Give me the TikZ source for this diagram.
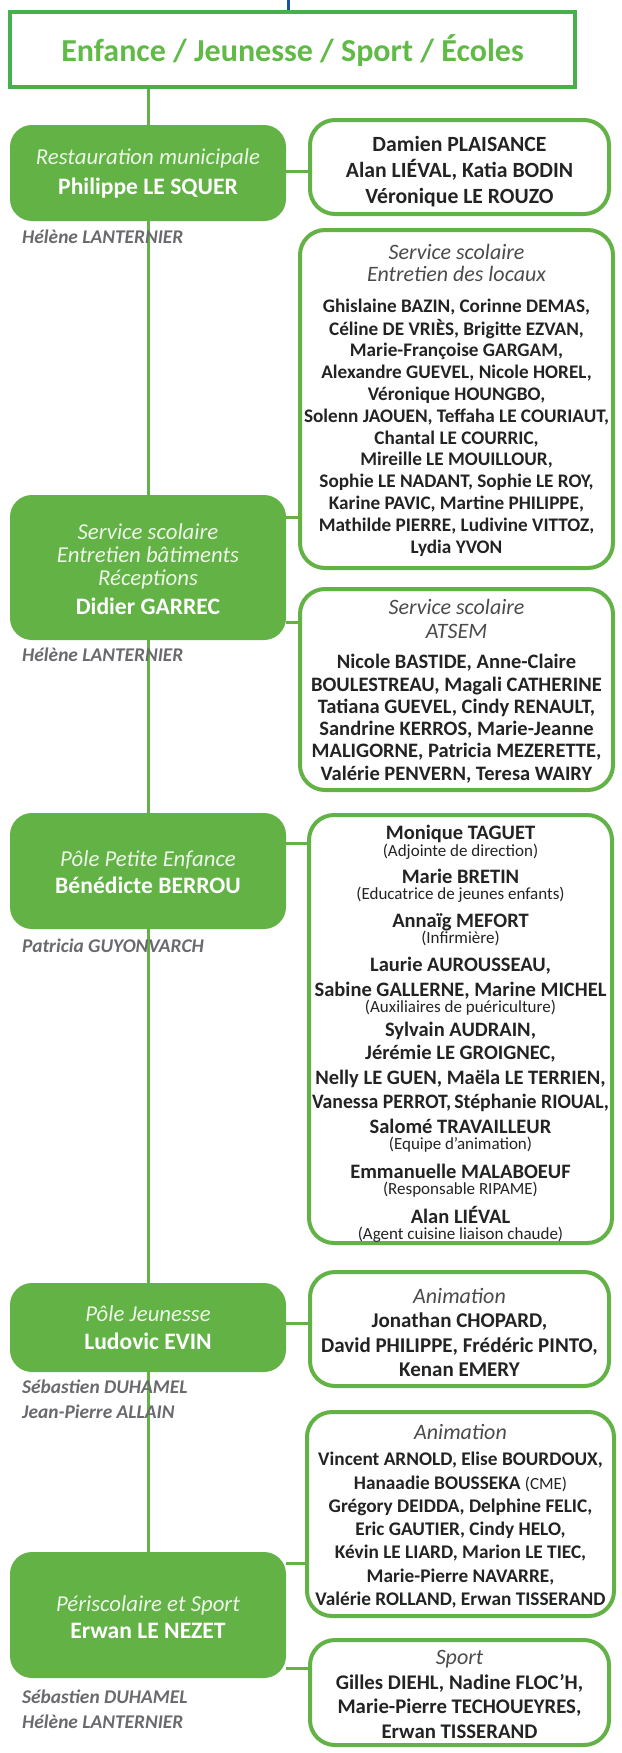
\documentclass[tikz,border=0pt]{standalone}
\usepackage{fontspec}
\setmainfont{Carlito}
\definecolor{lgreen}{RGB}{98,178,70}
\definecolor{tgreen}{RGB}{69,176,76}
\definecolor{ttext}{RGB}{96,186,70}
\definecolor{navy}{RGB}{30,80,160}
\definecolor{graytxt}{RGB}{105,105,110}
\definecolor{darktxt}{RGB}{35,35,35}
\definecolor{hdrtxt}{RGB}{75,75,75}
\definecolor{ltxt}{RGB}{236,246,230}
\newcommand\blk[3]{{\fontsize{#1}{#2}\selectfont\begin{tabular}[t]{@{}c@{}}#3\end{tabular}}}
\newcommand\lblk[3]{{\fontsize{#1}{#2}\selectfont\begin{tabular}[t]{@{}l@{}}#3\end{tabular}}}
\newcommand\hdr{\color{hdrtxt}\fontsize{22}{24}\selectfont\mdseries\itshape}
\newcommand\pnote{\color{darktxt}\fontsize{17}{18}\selectfont\mdseries\upshape}
\newcommand\lit{\color{ltxt}\fontsize{22.8}{23}\selectfont\mdseries\itshape}
\tikzset{
  lbox/.style={fill=lgreen, rounded corners=22pt, minimum width=276pt, inner sep=0pt},
  rbox/.style={draw=lgreen, line width=4pt, fill=white, rounded corners=25pt, inner sep=0pt},
  conn/.style={draw=lgreen, line width=3pt},
  mainline/.style={draw=lgreen, line width=3pt},
  txt/.style={anchor=base, inner sep=0pt},
  rtxt/.style={txt, text=darktxt, font=\bfseries},
  ltext/.style={txt, text=white, font=\bfseries},
  gtxt/.style={anchor=base west, inner sep=0pt, text=graytxt, font=\bfseries\itshape},
}
\begin{document}
\begin{tikzpicture}[x=1pt,y=-1pt]
\useasboundingbox (0,0) rectangle (621,1753);
% title and left boxes
\node[draw=tgreen, line width=4pt, minimum width=565pt, minimum height=75pt, inner sep=0pt] (title) at (292.5,49.5) {};
\coordinate (top) at (288,0);
\node[lbox, minimum height=96pt]  (l1) at (148,173) {};
\node[lbox, minimum height=145pt] (l2) at (148,567.5) {};
\node[lbox, minimum height=116pt] (l3) at (148,871) {};
\node[lbox, minimum height=89pt]  (l4) at (148,1327.5) {};
\node[lbox, minimum height=126pt] (l5) at (148,1615) {};
% connector heights
\coordinate (c1) at (0,171);
\coordinate (c2) at (0,517);
\coordinate (c3) at (0,622);
\coordinate (c4) at (0,843);
\coordinate (c5) at (0,1323);
\coordinate (c6) at (0,1563);
\coordinate (c7) at (0,1668);
% vertical lines
\draw[navy, line width=3pt] (top) -- (top |- title.north);
\draw[mainline] (l1.north |- title.south) -- (l5.north);
% right boxes
\node[rbox, minimum width=299pt, minimum height=94pt]  (a) at (459.5,167) {};
\node[rbox, minimum width=313pt, minimum height=338pt] (b) at (456.5,399) {};
\node[rbox, minimum width=313pt, minimum height=201pt] (c) at (456.5,689.5) {};
\node[rbox, minimum width=303pt, minimum height=428pt] (d) at (460.5,1029) {};
\node[rbox, minimum width=299pt, minimum height=114pt] (e) at (459.5,1329) {};
\node[rbox, minimum width=307pt, minimum height=204pt] (f) at (460.5,1514) {};
\node[rbox, minimum width=299pt, minimum height=105pt] (g) at (459.5,1692.5) {};
% connectors
\draw[conn] (l1.east |- c1) -- (a.west |- c1);
\draw[conn] (l2.east |- c2) -- (b.west |- c2);
\draw[conn] (l2.east |- c3) -- (c.west |- c3);
\draw[conn] (l3.east |- c4) -- (d.west |- c4);
\draw[conn] (l4.east |- c5) -- (e.west |- c5);
\draw[conn] (l5.east |- c6) -- (f.west |- c6);
\draw[conn] (l5.east |- c7) -- (g.west |- c7);
% title text
\node[txt, text=ttext, font=\bfseries\fontsize{32}{36}\selectfont] (tt) at (292.5,62) {Enfance / Jeunesse / Sport / Écoles};
% left texts
\node[ltext] (l1t) at (148,164.6) {\blk{23.6}{29}{\lit Restauration municipale\\[1pt] Philippe LE SQUER}};
\node[ltext] (l2t) at (148,539.6) {\blk{23.6}{23}{\lit Service scolaire\\\lit Entretien bâtiments\\\lit Réceptions\\[5.3pt] Didier GARREC}};
\node[ltext] (l3t) at (148,866.6) {\blk{23.6}{27.3}{\lit Pôle Petite Enfance\\ Bénédicte BERROU}};
\node[ltext] (l4t) at (148,1321.6) {\blk{23.6}{28}{\lit Pôle Jeunesse\\ Ludovic EVIN}};
\node[ltext] (l5t) at (148,1611.6) {\blk{23.6}{27.3}{\lit Périscolaire et Sport\\ Erwan LE NEZET}};
% gray labels
\node[gtxt] (g1) at (22,243.7) {\lblk{19.4}{25}{Hélène LANTERNIER}};
\node[gtxt] (g2) at (22,661.7) {\lblk{19.4}{25}{Hélène LANTERNIER}};
\node[gtxt] (g3) at (22,952.7) {\lblk{19.4}{25}{Patricia GUYONVARCH}};
\node[gtxt] (g4) at (22,1393.7) {\lblk{19.4}{25}{Sébastien DUHAMEL\\Jean-Pierre ALLAIN}};
\node[gtxt] (g5) at (22,1703.7) {\lblk{19.4}{25}{Sébastien DUHAMEL\\Hélène LANTERNIER}};
% right texts
\node[rtxt] (at) at (459.5,151.5) {\blk{21.7}{26}{Damien PLAISANCE\\Alan LIÉVAL, Katia BODIN\\Véronique LE ROUZO}};
\node[rtxt] (bt) at (456.5,259.6) {\blk{19.2}{21.8}{\hdr Service scolaire\\\hdr Entretien des locaux\\[9.2pt]
Ghislaine BAZIN, Corinne DEMAS,\\
Céline DE VRIÈS, Brigitte EZVAN,\\
Marie-Françoise GARGAM,\\
Alexandre GUEVEL, Nicole HOREL,\\
Véronique HOUNGBO,\\
Solenn JAOUEN, Teffaha LE COURIAUT,\\
Chantal LE COURRIC,\\
Mireille LE MOUILLOUR,\\
Sophie LE NADANT, Sophie LE ROY,\\
Karine PAVIC, Martine PHILIPPE,\\
Mathilde PIERRE, Ludivine VITTOZ,\\
Lydia YVON}};
\node[rtxt] (ct) at (456.5,614.6) {\blk{20.5}{22.3}{\hdr Service scolaire\\[1.7pt]\hdr ATSEM\\[7.8pt]
Nicole BASTIDE, Anne-Claire\\
BOULESTREAU, Magali CATHERINE\\
Tatiana GUEVEL, Cindy RENAULT,\\
Sandrine KERROS, Marie-Jeanne\\
MALIGORNE, Patricia MEZERETTE,\\
Valérie PENVERN, Teresa WAIRY}};
\node[rtxt] (dt) at (460.5,839.2) {\blk{20.5}{24}{Monique TAGUET\\[-7pt]
\pnote (Adjointe de direction)\\[3pt]
Marie BRETIN\\[-7.5pt]
\pnote (Educatrice de jeunes enfants)\\[4pt]
Annaïg MEFORT\\[-8pt]
\pnote (Infirmière)\\[3.5pt]
Laurie AUROUSSEAU,\\[1pt]
Sabine GALLERNE, Marine MICHEL\\[-7.7pt]
\pnote (Auxiliaires de puériculture)\\[-0.3pt]
Sylvain AUDRAIN,\\[-1pt]
Jérémie LE GROIGNEC,\\[1pt]
Nelly LE GUEN, Maëla LE TERRIEN,\\
\scalebox{0.965}[1]{Vanessa PERROT,\hspace{-1.5pt} Stéphanie RIOUAL,}\\[1pt]
Salomé TRAVAILLEUR\\[-7.7pt]
\pnote (Equipe d’animation)\\[4.7pt]
Emmanuelle MALABOEUF\\[-7.7pt]
\pnote (Responsable RIPAME)\\[4.7pt]
Alan LIÉVAL\\[-7.7pt]
\pnote (Agent cuisine liaison chaude)}};
\node[rtxt] (et) at (459.5,1303.6) {\blk{21}{24.3}{\hdr Animation\\
Jonathan CHOPARD,\\
David PHILIPPE, Frédéric PINTO,\\
Kenan EMERY}};
\node[rtxt] (ft) at (460.5,1439.6) {\blk{19.3}{23.3}{\hdr Animation\\[2.8pt]
Vincent ARNOLD, Elise BOURDOUX,\\
Hanaadie BOUSSEKA {\pnote (CME)}\\
Grégory DEIDDA, Delphine FELIC,\\
Eric GAUTIER, Cindy HELO,\\
Kévin LE LIARD, Marion LE TIEC,\\
Marie-Pierre NAVARRE,\\
Valérie ROLLAND, Erwan TISSERAND}};
\node[rtxt] (gt) at (459.5,1664.6) {\blk{20.8}{24.5}{\hdr Sport\\
Gilles DIEHL, Nadine FLOC’H,\\
Marie-Pierre TECHOUEYRES,\\
Erwan TISSERAND}};
\end{tikzpicture}
\end{document}
